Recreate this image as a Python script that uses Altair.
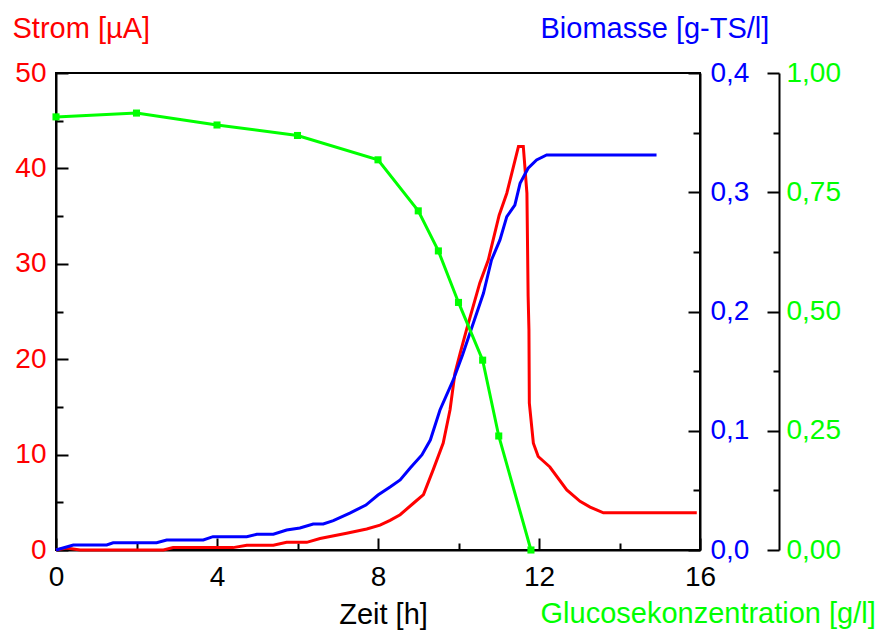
import altair as alt
import pandas as pd

# ---- data ----
time_strom = [0, 0.26, 0.6, 2.67, 2.91, 4.4, 4.74, 5.4, 5.73, 6.23, 6.56, 7.22, 7.72, 8.05, 8.3,
              8.55, 8.88, 9.13, 9.37, 9.62, 9.79, 9.91, 10.04, 10.2, 10.53, 10.74, 11.01, 11.2,
              11.49, 11.61, 11.70, 11.73, 11.75, 11.76, 11.86, 11.98, 12.27, 12.69, 13.02, 13.27,
              13.6, 15.92]
strom = [0, 0.2, 0, 0, 0.25, 0.25, 0.5, 0.5, 0.8, 0.8, 1.2, 1.75, 2.2, 2.6, 3.1,
         3.7, 4.9, 5.8, 8.4, 11.2, 14.7, 18.5, 20.6, 23.1, 28.0, 30.4, 35.1, 37.4,
         42.3, 42.3, 37.4, 26.6, 23.1, 15.4, 11.2, 9.8, 8.7, 6.3, 5.1, 4.5,
         3.9, 3.9]

time_bio = [0, 0.43, 1.26, 1.42, 2.5, 2.75, 3.66, 3.9, 4.74, 4.99, 5.4, 5.73, 6.06, 6.39, 6.64,
            6.89, 7.3, 7.7, 8.0, 8.3, 8.55, 8.8, 9.09, 9.3, 9.54, 9.87, 10.1, 10.31, 10.62,
            10.82, 11.03, 11.2, 11.4, 11.53, 11.73, 11.94, 12.19, 14.92]
biomasse = [0, 0.0042, 0.0042, 0.0061, 0.0061, 0.0084, 0.0084, 0.0112, 0.0112, 0.0132, 0.0132,
            0.0168, 0.0184, 0.0218, 0.0218, 0.0246, 0.031, 0.0377, 0.0461, 0.0528, 0.0587,
            0.0688, 0.0797, 0.0922, 0.1174, 0.1426, 0.1635, 0.1845, 0.2153, 0.2432, 0.26,
            0.2795, 0.2893, 0.3075, 0.3201, 0.3271, 0.3313, 0.3313]

time_glc = [0, 2, 4, 6, 8, 9, 9.5, 10, 10.6, 11, 11.8]
glucose = [0.908, 0.916, 0.891, 0.869, 0.818, 0.711, 0.627, 0.519, 0.398, 0.239, 0.0]

x_ticks = [0, 2, 4, 6, 8, 10, 12, 14, 16]
strom_ticks = [0, 5, 10, 15, 20, 25, 30, 35, 40, 45, 50]
bio_ticks = [0, 0.05, 0.1, 0.15, 0.2, 0.25, 0.3, 0.35, 0.4]
glc_ticks = [0, 0.125, 0.25, 0.375, 0.5, 0.625, 0.75, 0.875, 1.0]

RED = "#ff0000"
BLUE = "#0000ff"
GREEN = "#00ff00"
FONT = "Liberation Sans"

df_red = pd.DataFrame({"t": time_strom, "v": strom, "i": range(len(strom))})
df_blue = pd.DataFrame({"t": time_bio, "v": biomasse, "i": range(len(biomasse))})
df_green = pd.DataFrame({"t": time_glc, "v": glucose, "i": range(len(glucose))})

common_axis = dict(
    domainColor="black", domainWidth=2, tickColor="black", tickWidth=2,
    grid=False, labelFlush=False, labelOverlap=False, labelBound=False,
    labelFontSize=28, titleFontSize=29, titleFontWeight="normal",
    labelFont=FONT, titleFont=FONT,
)

x_axis = alt.Axis(
    values=x_ticks, title="Zeit [h]", titleX=327, titleY=73, titleAlign="center",
    titleBaseline="alphabetic", titleColor="black", labelColor="black",
    labelExpr="datum.value % 4 === 0 ? datum.label : ''",
    tickSize=alt.ExprRef("datum.value % 4 === 0 ? -12 : -7"),
    labelPadding=25, labelAlign="center", labelBaseline="top",
    **common_axis,
)
x_enc = alt.X("t:Q", scale=alt.Scale(domain=[0, 16], nice=False, zero=False), axis=x_axis)

red = alt.Chart(df_red).mark_line(color=RED, strokeWidth=3).encode(
    x=x_enc,
    y=alt.Y("v:Q", scale=alt.Scale(domain=[0, 50], nice=False),
            axis=alt.Axis(
                orient="left", values=strom_ticks,
                labelExpr="datum.value % 10 === 0 ? datum.label : ''",
                tickSize=alt.ExprRef("datum.value % 10 === 0 ? -12 : -7"),
                labelPadding=22, labelColor=RED,
                title="Strom [µA]", titleColor=RED, titleX=-44, titleY=-36,
                titleAngle=0, titleAlign="left", titleBaseline="alphabetic",
                **common_axis)),
    order="i:Q",
)

blue = alt.Chart(df_blue).mark_line(color=BLUE, strokeWidth=3).encode(
    x=x_enc,
    y=alt.Y("v:Q", scale=alt.Scale(domain=[0, 0.4], nice=False),
            axis=alt.Axis(
                orient="right", values=bio_ticks,
                labelExpr="round(datum.value*100) % 10 === 0 ? replace(format(datum.value, '.1f'), '.', ',') : ''",
                tickSize=alt.ExprRef("round(datum.value*100) % 10 === 0 ? -12 : -7"),
                labelPadding=22, labelColor=BLUE,
                title="Biomasse [g-TS/l]", titleColor=BLUE, titleX=-160, titleY=-36,
                titleAngle=0, titleAlign="left", titleBaseline="alphabetic",
                **common_axis)),
    order="i:Q",
)

green = alt.Chart(df_green).mark_line(
    color=GREEN, strokeWidth=3,
    point=alt.OverlayMarkDef(shape="square", size=50, filled=True, color=GREEN, opacity=1),
).encode(
    x=x_enc,
    y=alt.Y("v:Q", scale=alt.Scale(domain=[0, 1], nice=False),
            axis=alt.Axis(
                orient="right", offset=79, values=glc_ticks,
                labelExpr="round(datum.value*1000) % 250 === 0 ? replace(format(datum.value, '.2f'), '.', ',') : ''",
                tickSize=alt.ExprRef("round(datum.value*1000) % 250 === 0 ? -12 : -6"),
                labelPadding=19, labelColor=GREEN,
                title="Glucosekonzentration [g/l]", titleColor=GREEN, titleX=-239, titleY=549,
                titleAngle=0, titleAlign="left", titleBaseline="alphabetic",
                **common_axis)),
    order="i:Q",
)

chart = alt.layer(red, blue, green).resolve_scale(y="independent").properties(
    width=644, height=477,
    padding={"left": 56, "top": 73, "right": 183, "bottom": 83},
    autosize=alt.AutoSizeParams(type="none"),
).configure(font=FONT, background="white").configure_view(stroke="black", strokeWidth=2)

chart.save("out.html", embed_options={"renderer": "svg", "actions": False})
